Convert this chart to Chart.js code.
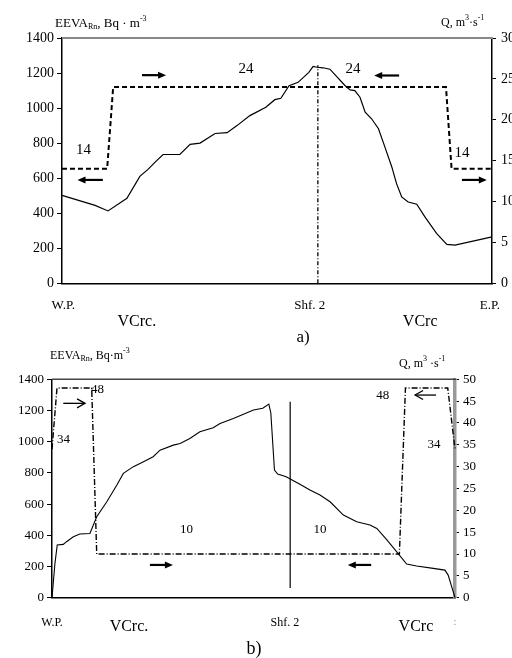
<!DOCTYPE html>
<html><head><meta charset="utf-8">
<script src="https://cdn.jsdelivr.net/npm/chart.js@4.4.1/dist/chart.umd.min.js"></script>
<style>
html,body{margin:0;padding:0;background:#fff;width:512px;height:658px;overflow:hidden;position:relative;}
canvas{position:absolute;left:0;}
#ca{top:0}
#cb{top:340px}
</style></head><body>
<canvas id="ca" width="512" height="352"></canvas>
<canvas id="cb" width="512" height="318"></canvas>
<script>
// ---------- Panel a) ----------
const aDist = [0,7.7,10.7,15.1,18.1,20,21.6,23.5,27.4,29.8,32.1,35.6,38.4,40.7,43.7,47.4,49.5,50.9,52.8,54.9,57.4,58.4,59.3,60.7,62.3,65.8,67.0,68.1,69.3,70.5,72.0,73.6,75.1,76.7,77.8,79.0,80.5,82.5,84.4,87.1,89.5,91.4,100];
const aEEVA = [502,445,413,485,610,650,690,735,735,793,800,855,860,900,957,1005,1048,1056,1128,1147,1204,1238,1233,1230,1222,1129,1104,1100,1062,977,939,882,777,664,569,493,464,451,379,285,222,218,265];
const aQDist = [0,10.5,11.9,89.3,90.6,100];
const aQ = [14,14,24,24,14,14];
const aShfDist = [59.5,59.5];
const aShfEEVA = [0,1245];
const aPlaceNames = ['W.P.','Shf. 2','E.P.'];
const aPlaceDist = [0.3,57.6,99.5];
const aSubNames = ['VCrc.','VCrc'];
const aSubDist = [17.4,83.3];

// ---------- Panel b) ----------
const bDist = [0,0.74,1.3,2.8,3.6,5.3,6.9,9.4,11.1,13.6,16.1,17.7,20.2,22.7,25.1,26.8,30.1,31.8,34.2,36.7,40,41.7,45,50,52.3,53.8,54.3,55.2,56,58.1,61.4,64,66.5,69,72.3,75.6,78.9,80.6,83.1,85.5,88,90.5,94.6,97.5,98.3,100];
const bEEVA = [0,222,338,342,359,391,408,412,519,615,722,797,840,872,904,946,978,989,1021,1064,1089,1117,1149,1203,1214,1241,1184,818,793,775,729,690,658,615,530,487,466,444,370,295,216,203,188,177,145,0];
const bQDist = [0,1.24,9.85,11.1,86.2,87.7,98.2,100];
const bQ = [34,48,48,10,10,48,48,34];
const bShfDist = [59.1,59.1];
const bShfEEVA = [62,1256];
const bPlaceNames = ['W.P.','Shf. 2'];
const bPlaceDist = [0,57.8];
const bSubNames = ['VCrc.','VCrc'];
const bSubDist = [19.1,90.3];

const SERIF = '"Liberation Serif","DejaVu Serif",serif';

function drawRich(ctx, x, y, parts){
  let cx = x;
  for (const [t, s, dy] of parts){
    ctx.font = s + 'px ' + SERIF;
    ctx.fillText(t, cx, y + dy);
    cx += ctx.measureText(t).width;
  }
}
function arrow(ctx, x1, x2, y, open){
  const dir = Math.sign(x2 - x1);
  ctx.save();
  ctx.strokeStyle = '#000'; ctx.fillStyle = '#000'; ctx.setLineDash([]);
  if (open){
    ctx.lineWidth = 1.3;
    ctx.beginPath(); ctx.moveTo(x1, y); ctx.lineTo(x2, y); ctx.stroke();
    ctx.beginPath(); ctx.moveTo(x2 - dir*8, y-4.5); ctx.lineTo(x2, y); ctx.lineTo(x2 - dir*8, y+4.5); ctx.stroke();
  } else {
    ctx.lineWidth = 2.2;
    ctx.beginPath(); ctx.moveTo(x1, y); ctx.lineTo(x2 - dir*5, y); ctx.stroke();
    ctx.beginPath(); ctx.moveTo(x2, y); ctx.lineTo(x2 - dir*8, y-3.5); ctx.lineTo(x2 - dir*8, y+3.5); ctx.closePath(); ctx.fill();
  }
  ctx.restore();
}

const notesPlugin = {
  id: 'notes',
  afterDraw(chart){
    const o = chart.options.plugins.notes;
    const ctx = chart.ctx, xs = chart.scales.x, ys = chart.scales.y, ca = chart.chartArea;
    ctx.save();
    ctx.strokeStyle = o.topColor; ctx.lineWidth = o.topWidth;
    ctx.beginPath(); ctx.moveTo(ca.left, ca.top); ctx.lineTo(ca.right + 1, ca.top); ctx.stroke();
    ctx.fillStyle = '#000';
    ctx.textAlign = 'center'; ctx.textBaseline = 'middle';
    for (const n of o.texts){
      ctx.font = n.size + 'px ' + SERIF;
      ctx.fillText(n.t, xs.getPixelForValue(n.x), ys.getPixelForValue(n.y));
    }
    for (const a of o.arrows){
      arrow(ctx, xs.getPixelForValue(a.x1), xs.getPixelForValue(a.x2), ys.getPixelForValue(a.y), a.open);
    }
    ctx.font = o.placeSize + 'px ' + SERIF;
    o.places.forEach((t, i) => ctx.fillText(t, xs.getPixelForValue(o.placeDist[i]), ca.bottom + o.placeOff));
    ctx.font = o.subSize + 'px ' + SERIF;
    o.subs.forEach((t, i) => ctx.fillText(t, xs.getPixelForValue(o.subDist[i]), ca.bottom + o.subOff));
    ctx.font = o.capSize + 'px ' + SERIF;
    ctx.fillText(o.cap, o.capX, ca.bottom + o.capOff);
    if (o.extra) { ctx.fillStyle = '#888'; ctx.font = '10px ' + SERIF; ctx.fillText(o.extra, ca.right, ca.bottom + o.placeOff); ctx.fillStyle = '#000'; }
    ctx.textAlign = 'left'; ctx.textBaseline = 'alphabetic';
    drawRich(ctx, ca.left + o.lt.dx, ca.top + o.lt.dy, o.lt.parts);
    drawRich(ctx, ca.right + o.rt.dx, ca.top + o.rt.dy, o.rt.parts);
    ctx.restore();
  }
};

function makeChart(id, cfg){
  const H = document.getElementById(id).height;
  return new Chart(document.getElementById(id), {
    type: 'line',
    data: { datasets: cfg.datasets },
    options: {
      responsive: false, animation: false, devicePixelRatio: 1,
      layout: { padding: { top: cfg.top, right: 0, left: 0, bottom: 0 } },
      plugins: { legend: { display: false }, tooltip: { enabled: false }, notes: cfg.notes },
      elements: { point: { radius: 0 }, line: { tension: 0 } },
      scales: {
        x: { type: 'linear', min: 0, max: 100, display: true,
             ticks: { display: false }, grid: { display: false, drawTicks: false },
             border: { color: '#000', width: 1.5 },
             afterFit(s){ s.height = H - cfg.bottom; } },
        y: { position: 'left', min: 0, max: 1400,
             ticks: { stepSize: 200, color: '#000', font: { family: SERIF, size: cfg.tickSize }, padding: 3, callback: v => String(v) },
             grid: { drawOnChartArea: false, drawTicks: true, tickLength: 5, color: '#000', lineWidth: 1 },
             border: { color: '#000', width: 1.5 },
             afterFit(s){ s.width = cfg.left; } },
        y2: { position: 'right', min: 0, max: cfg.qMax,
             ticks: { stepSize: 5, color: '#000', font: { family: SERIF, size: cfg.tickSize }, padding: cfg.rPad, callback: v => String(v) },
             grid: { drawOnChartArea: false, drawTicks: true, tickLength: 4, color: '#000', lineWidth: 1 },
             border: { color: cfg.rColor, width: cfg.rWidth },
             afterFit(s){ s.width = 512 - cfg.right; } }
      }
    },
    plugins: [notesPlugin]
  });
}

const pts = (xs, ys) => xs.map((x, i) => ({ x, y: ys[i] }));

// Panel a
makeChart('ca', {
  top: 38, bottom: 283.3, left: 62, right: 492, qMax: 30, tickSize: 14, rPad: 5,
  rColor: '#000', rWidth: 1.5,
  datasets: [
    { data: pts(aDist, aEEVA), yAxisID: 'y', borderColor: '#000', borderWidth: 1.2, clip: false },
    { data: pts(aQDist, aQ), yAxisID: 'y2', borderColor: '#000', borderWidth: 2, borderDash: [5, 3], clip: false },
    { data: pts(aShfDist, aShfEEVA), yAxisID: 'y', borderColor: '#000', borderWidth: 1.3, borderDash: [4, 2, 1, 2], clip: false }
  ],
  notes: {
    topColor: '#888', topWidth: 2,
    texts: [
      { t: '14', x: 5.0, y: 762, size: 15 },
      { t: '24', x: 42.8, y: 1220, size: 15 },
      { t: '24', x: 67.7, y: 1220, size: 15 },
      { t: '14', x: 93.0, y: 743, size: 15 }
    ],
    arrows: [
      { x1: 18.6, x2: 24.2, y: 1188 },
      { x1: 78.4, x2: 72.6, y: 1186 },
      { x1: 9.5, x2: 3.6, y: 590 },
      { x1: 93.0, x2: 98.8, y: 590 }
    ],
    places: aPlaceNames, placeDist: aPlaceDist, placeSize: 13, placeOff: 22,
    subs: aSubNames, subDist: aSubDist, subSize: 16, subOff: 38,
    cap: 'a)', capX: 303, capSize: 17, capOff: 54,
    lt: { dx: -7, dy: -11.5, parts: [['EEVA', 13, 0], ['Rn', 8, 2], [', Bq · m', 13, 0], ['-3', 8, -6]] },
    rt: { dx: -51, dy: -12, parts: [['Q, m', 12, 0], ['3', 8, -6], ['·s', 12, 0], ['-1', 8, -6]] }
  }
});

// Panel b
makeChart('cb', {
  top: 39.3, bottom: 257.7, left: 52, right: 455, qMax: 50, tickSize: 13, rPad: 4,
  rColor: '#999', rWidth: 3.5,
  datasets: [
    { data: pts(bDist, bEEVA), yAxisID: 'y', borderColor: '#000', borderWidth: 1.1, clip: false },
    { data: pts(bQDist, bQ), yAxisID: 'y2', borderColor: '#000', borderWidth: 1.4, borderDash: [6, 2, 1, 2], clip: false },
    { data: pts(bShfDist, bShfEEVA), yAxisID: 'y', borderColor: '#000', borderWidth: 1.2, clip: false }
  ],
  notes: {
    topColor: '#444', topWidth: 1.5,
    texts: [
      { t: '48', x: 11.3, y: 1336, size: 13 },
      { t: '34', x: 2.85, y: 1011, size: 13 },
      { t: '48', x: 82.1, y: 1293, size: 13 },
      { t: '34', x: 94.8, y: 979, size: 13 },
      { t: '10', x: 33.4, y: 438, size: 13 },
      { t: '10', x: 66.5, y: 438, size: 13 }
    ],
    arrows: [
      { x1: 2.8, x2: 8.2, y: 1246, open: true },
      { x1: 95.3, x2: 90.1, y: 1299, open: true },
      { x1: 24.3, x2: 30.0, y: 210 },
      { x1: 79.2, x2: 73.4, y: 210 }
    ],
    places: bPlaceNames, placeDist: bPlaceDist, placeSize: 12, placeOff: 25,
    subs: bSubNames, subDist: bSubDist, subSize: 16, subOff: 29,
    cap: 'b)', capX: 254, capSize: 18, capOff: 52,
    extra: ':',
    lt: { dx: -2, dy: -20, parts: [['EEVA', 12, 0], ['Rn', 8, 2], [', Bq·m', 12, 0], ['-3', 8, -6]] },
    rt: { dx: -56, dy: -12.6, parts: [['Q, m', 12, 0], ['3', 8, -6], [' ·s', 12, 0], ['-1', 8, -6]] }
  }
});
</script>
</body></html>
